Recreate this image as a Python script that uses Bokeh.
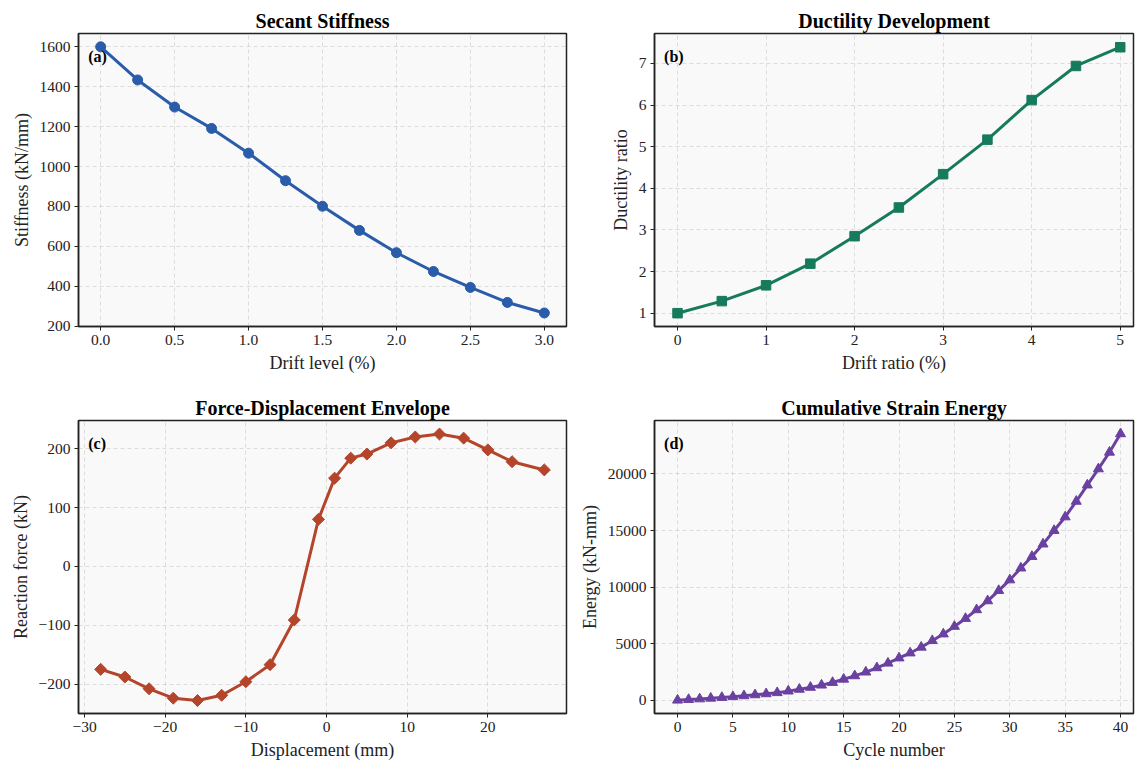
from bokeh.plotting import figure
from bokeh.layouts import column, row
from bokeh.models import Range1d, FixedTicker, Label
from bokeh.embed import file_html
from bokeh.resources import INLINE

# ---------------- data ----------------
drift_a = [0.0, 0.25, 0.5, 0.75, 1.0, 1.25, 1.5, 1.75, 2.0, 2.25, 2.5, 2.75, 3.0]
stiffness = [1600, 1434, 1298, 1191, 1067, 929, 801, 680, 568, 474, 394, 319, 266]

drift_b = [0, 0.5, 1.0, 1.5, 2.0, 2.5, 3.0, 3.5, 4.0, 4.5, 5.0]
ductility = [1.0, 1.29, 1.67, 2.19, 2.85, 3.54, 4.34, 5.17, 6.12, 6.94, 7.39]

displacement = [-28, -25, -22, -19, -16, -13, -10, -7, -4, -1, 1, 3, 5, 8, 11, 14, 17, 20, 23, 27]
force = [-175, -188, -208, -224, -228, -219, -196, -167, -91, 80, 150, 184, 191, 210, 220, 225, 218, 198, 178, 164]

cycles = list(range(41))
energy = [0, 55, 110, 170, 235, 305, 385, 470, 560, 660,
          800, 960, 1130, 1330, 1560, 1850, 2150, 2480, 2860, 3270,
          3730, 4170, 4680, 5260, 5850, 6520, 7220, 7990, 8780, 9690,
          10630, 11680, 12700, 13800, 15000, 16200, 17580, 19020, 20450, 21920,
          23550]

ticks_a_x = [0.0, 0.5, 1.0, 1.5, 2.0, 2.5, 3.0]
ticks_a_y = [200, 400, 600, 800, 1000, 1200, 1400, 1600]
ticks_b_x = [0, 1, 2, 3, 4, 5]
ticks_b_y = [1, 2, 3, 4, 5, 6, 7]
ticks_c_x = [-30, -20, -10, 0, 10, 20]
ticks_c_y = [-200, -100, 0, 100, 200]
ticks_d_x = [0, 5, 10, 15, 20, 25, 30, 35, 40]
ticks_d_y = [0, 5000, 10000, 15000, 20000]

FONT = "Liberation Serif"
C_A = "#2a5caa"
C_B = "#167a5c"
C_C = "#b5452a"
C_D = "#6a41a0"


def make(width, height, xr, yr, title, xlabel, ylabel, bl, br, bt, bb, xt, yt):
    p = figure(width=width, height=height,
               x_range=Range1d(*xr), y_range=Range1d(*yr),
               output_backend="svg", toolbar_location=None,
               min_border_left=bl, min_border_right=br,
               min_border_top=bt, min_border_bottom=bb,
               title=title)
    p.title.text_font = FONT
    p.title.text_font_size = "20px"
    p.title.text_font_style = "bold"
    p.title.align = "center"
    p.title.text_color = "black"
    p.title.standoff = 4
    p.background_fill_color = "#f9f9f9"
    p.border_fill_color = "white"
    p.outline_line_color = "#222222"
    p.outline_line_width = 1.5
    for ax in (p.xaxis[0], p.yaxis[0]):
        ax.axis_line_color = "#222222"
        ax.axis_line_width = 1.5
        ax.major_tick_out = 4
        ax.major_tick_in = 0
        ax.major_tick_line_color = "#222222"
        ax.minor_tick_line_color = None
        ax.major_label_text_font = FONT
        ax.major_label_text_font_size = "15.5px"
        ax.major_label_text_color = "#222222"
        ax.axis_label_text_font = FONT
        ax.axis_label_text_font_size = "18px"
        ax.axis_label_text_font_style = "normal"
        ax.axis_label_text_color = "#222222"
        ax.axis_label_standoff = 5
        ax.major_label_standoff = 4
    p.xaxis.axis_label = xlabel
    p.yaxis.axis_label = ylabel
    p.xaxis.ticker = FixedTicker(ticks=xt)
    p.yaxis.ticker = FixedTicker(ticks=yt)
    p.xgrid.ticker = FixedTicker(ticks=xt)
    p.ygrid.ticker = FixedTicker(ticks=yt)
    for g in (p.xgrid[0], p.ygrid[0]):
        g.grid_line_color = "#bbbbbb"
        g.grid_line_alpha = 0.6
        g.grid_line_dash = "4 3"
        g.grid_line_width = 0.8
    return p


def tag(p, text):
    xs, xe = p.x_range.start, p.x_range.end
    ys, ye = p.y_range.start, p.y_range.end
    p.add_layout(Label(x=xs + 0.02 * (xe - xs), y=ys + 0.95 * (ye - ys), text=text,
                       text_font=FONT, text_font_size="16px", text_font_style="bold",
                       text_align="left", text_baseline="top", text_color="black"))


def minus_labels(ticks, fmt):
    return {t: fmt(t).replace("-", "\u2212") for t in ticks}


# (a)
pa = make(575, 375, (-0.15, 3.15), (198.25, 1666.75), "Secant Stiffness",
          "Drift level (%)", "Stiffness (kN/mm)", 78, 9, 33, 45, ticks_a_x, ticks_a_y)
pa.xaxis.major_label_overrides = {t: f"{t:.1f}" for t in ticks_a_x}
pa.line(drift_a, stiffness, line_width=3, color=C_A)
pa.scatter(drift_a, stiffness, marker="circle", size=10, color=C_A)
tag(pa, "(a)")

# (b)
pb = make(560, 375, (-0.26, 5.15), (0.68, 7.72), "Ductility Development",
          "Drift ratio (%)", "Ductility ratio", 79, 2, 33, 45, ticks_b_x, ticks_b_y)
pb.line(drift_b, ductility, line_width=3, color=C_B)
pb.scatter(drift_b, ductility, marker="square", size=9.5, color=C_B)
tag(pb, "(b)")

# (c)
pc = make(575, 390, (-30.75, 29.75), (-250.0, 248.0), "Force-Displacement Envelope",
          "Displacement (mm)", "Reaction force (kN)", 78, 9, 45, 52, ticks_c_x, ticks_c_y)
pc.xaxis.major_label_overrides = minus_labels(ticks_c_x, lambda t: f"{t}")
pc.yaxis.major_label_overrides = minus_labels(ticks_c_y, lambda t: f"{t}")
pc.line(displacement, force, line_width=3, color=C_C)
pc.scatter(displacement, force, marker="square", size=8.5, angle=0.785398, color=C_C)
tag(pc, "(c)")

# (d)
pd_ = make(560, 390, (-2.08, 41.17), (-1178.0, 24728.0), "Cumulative Strain Energy",
           "Cycle number", "Energy (kN-mm)", 79, 2, 45, 52, ticks_d_x, ticks_d_y)
pd_.line(cycles, energy, line_width=3, color=C_D)
pd_.scatter(cycles, energy, marker="triangle", size=10, color=C_D)
tag(pd_, "(d)")

layout = column(row(pa, pb), row(pc, pd_))
open("out.html", "w").write(file_html(layout, INLINE))
